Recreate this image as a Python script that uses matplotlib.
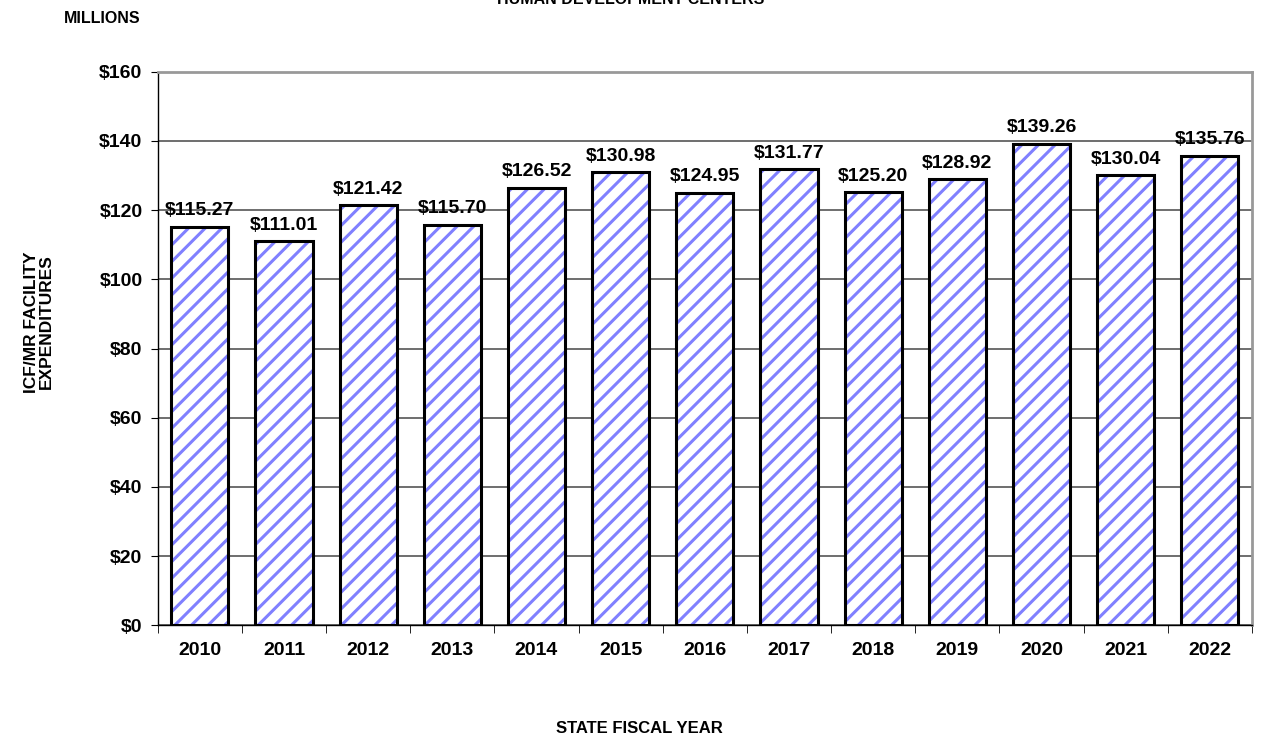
import numpy as np
import matplotlib.pyplot as plt

plt.rcParams['font.family'] = ['Liberation Sans', 'DejaVu Sans']
plt.rcParams['font.weight'] = 'bold'
plt.rcParams['hatch.linewidth'] = 2.2

years = ['2010', '2011', '2012', '2013', '2014', '2015', '2016',
         '2017', '2018', '2019', '2020', '2021', '2022']
spend = [115.27, 111.01, 121.42, 115.70, 126.52, 130.98, 124.95,
         131.77, 125.20, 128.92, 139.26, 130.04, 135.76]
yticks = [0, 20, 40, 60, 80, 100, 120, 140, 160]

fig = plt.figure(figsize=(12.62, 7.40), dpi=100)
ax = fig.add_axes([0.125, 0.155, 0.867, 0.748])

x = np.arange(len(years))
# hatch takes the edge colour, so draw the stripes first, then the black outline
ax.bar(x, spend, width=0.68, color='white', edgecolor='#8080ff',
       linewidth=0, hatch='//', zorder=3)
ax.bar(x, spend, width=0.68, color='none', edgecolor='black',
       linewidth=2.2, zorder=4)
for xi, v in zip(x, spend):
    ax.text(xi, v + 2.2, '$%.2f' % v, ha='center', va='bottom',
            fontsize=14, fontweight='bold', zorder=5)

ax.set_xlim(-0.5, len(years) - 0.5)
ax.set_ylim(0, 160)
ax.set_yticks(yticks)
ax.set_yticklabels(['$%d' % t for t in yticks], fontsize=14, fontweight='bold')
ax.set_xticks(x)
ax.set_xticklabels(years, fontsize=14, fontweight='bold')
ax.tick_params(axis='x', length=0, pad=12)
ax.set_xticks(np.arange(-0.5, len(years)), minor=True)
ax.tick_params(axis='x', which='minor', length=6, direction='out', color='black')
ax.tick_params(axis='y', length=5, direction='out', pad=6)

ax.yaxis.grid(True, color='#555555', linewidth=1.2, zorder=0)
for s in ['top', 'right']:
    ax.spines[s].set_color('#999999')
    ax.spines[s].set_linewidth(2)
for s in ['left', 'bottom']:
    ax.spines[s].set_color('black')
    ax.spines[s].set_linewidth(1)

fig.text(0.5, 1.0, 'HUMAN DEVELOPMENT CENTERS', ha='center', va='center',
         fontsize=11.5, fontweight='bold')
fig.text(0.081, 0.975, 'MILLIONS', ha='center', va='center',
         fontsize=11.5, fontweight='bold')
fig.text(0.031, 0.565, 'ICF/MR FACILITY\nEXPENDITURES', ha='center', va='center',
         rotation=90, fontsize=12.5, fontweight='bold', linespacing=0.95)
fig.text(0.507, 0.015, 'STATE FISCAL YEAR', ha='center', va='center',
         fontsize=12, fontweight='bold')

fig.savefig('out.png', dpi=100)
